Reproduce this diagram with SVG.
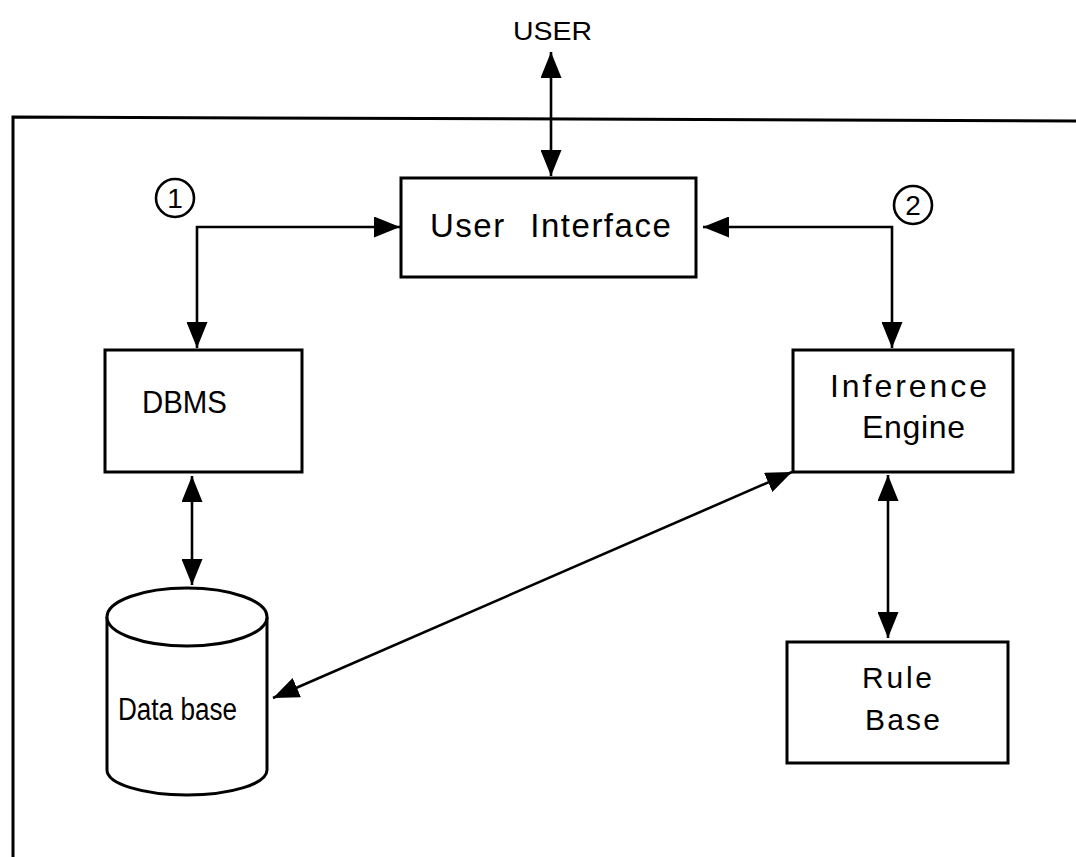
<svg xmlns="http://www.w3.org/2000/svg" width="1076" height="857" viewBox="0 0 1076 857">
  <style>
    .box { fill: #fff; stroke: #000; stroke-width: 3; }
    .frame { fill: none; stroke: #000; stroke-width: 3; }
    .wire { fill: none; stroke: #000; stroke-width: 2.6; marker-start: url(#head); marker-end: url(#head); }
    .lbl { font-family: "Liberation Sans", Arial, sans-serif; fill: #000; text-anchor: start; }
    .tag { fill: #fff; stroke: #000; stroke-width: 2.6; }
  </style>
  <defs>
    <marker id="head" viewBox="0 0 26 21" refX="26" refY="10.5" markerWidth="26" markerHeight="21" markerUnits="userSpaceOnUse" orient="auto-start-reverse">
      <path d="M0,0 L26,10.5 L0,21 Z" fill="#000"/>
    </marker>
  </defs>

  <rect width="1076" height="857" fill="#fff"/>

  <!-- system boundary (open to the right and bottom) -->
  <path class="frame" d="M13,857 L13,117 L1076,121"/>

  <g id="user">
    <text class="lbl" x="513" y="40" font-size="26" textLength="79" lengthAdjust="spacingAndGlyphs">USER</text>
  </g>

  <g id="user-interface">
    <rect class="box" x="401" y="178" width="295" height="99"/>
    <text class="lbl" x="430" y="237" font-size="33" letter-spacing="1.5" word-spacing="14">User Interface</text>
  </g>

  <g id="dbms">
    <rect class="box" x="105" y="350" width="197" height="122"/>
    <text class="lbl" x="142" y="413" font-size="31" textLength="85" lengthAdjust="spacingAndGlyphs">DBMS</text>
  </g>

  <g id="inference-engine">
    <rect class="box" x="793" y="350" width="220" height="122"/>
    <text class="lbl" x="830" y="397" font-size="32" textLength="157">Inference</text>
    <text class="lbl" x="862" y="438" font-size="32" textLength="103">Engine</text>
  </g>

  <g id="database">
    <path class="box" d="M107,617 L107,770 A80,25 0 0 0 267,770 L267,617"/>
    <ellipse class="box" cx="187" cy="617" rx="80" ry="29"/>
    <text class="lbl" x="118" y="720" font-size="31" textLength="119" lengthAdjust="spacingAndGlyphs">Data base</text>
  </g>

  <g id="rule-base">
    <rect class="box" x="787" y="642" width="221" height="121"/>
    <text class="lbl" x="862" y="688" font-size="30" textLength="70">Rule</text>
    <text class="lbl" x="865" y="730" font-size="30" textLength="75">Base</text>
  </g>

  <g id="path-1">
    <circle class="tag" cx="175" cy="198" r="19"/>
    <text class="lbl" x="175" y="208" font-size="28" style="text-anchor:middle">1</text>
  </g>

  <g id="path-2">
    <circle class="tag" cx="913" cy="205" r="19"/>
    <text class="lbl" x="913" y="215" font-size="28" style="text-anchor:middle">2</text>
  </g>

  <g id="connectors">
    <path class="wire" d="M551,52 L551,176"/>
    <path class="wire" d="M400,227 L197,227 L197,348"/>
    <path class="wire" d="M703,227 L892,227 L892,348"/>
    <path class="wire" d="M192,476 L192,585"/>
    <path class="wire" d="M273,698 L792,472"/>
    <path class="wire" d="M888,475 L888,638"/>
  </g>
</svg>
